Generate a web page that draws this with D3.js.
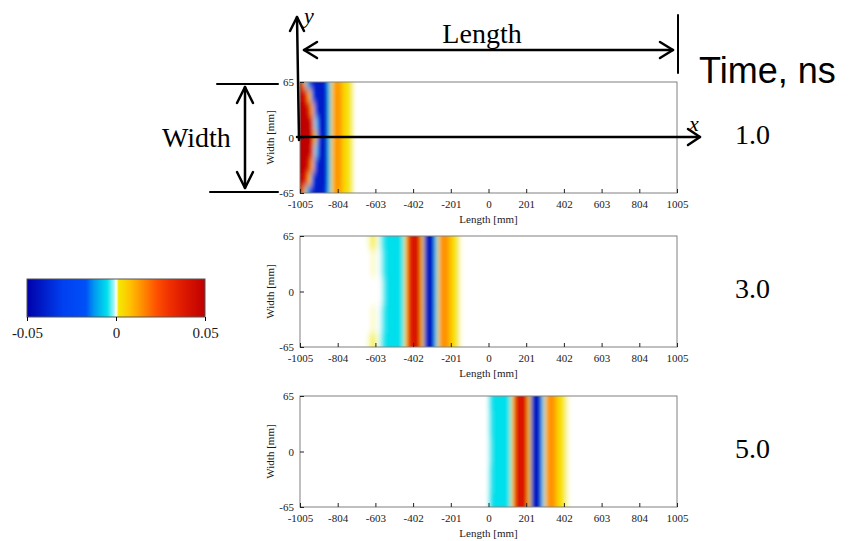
<!DOCTYPE html>
<html>
<head>
<meta charset="utf-8">
<script src="https://cdn.jsdelivr.net/npm/d3@7"></script>
<style>
  body { margin: 0; background: #fff; }
  svg { display: block; }
  text { font-family: "Liberation Serif", "Times New Roman", serif; }
</style>
</head>
<body>
<div id="chart"></div>
<script>
// ---- data ----
var lengthTicks = [-1005, -804, -603, -402, -201, 0, 201, 402, 603, 804, 1005];
var widthTicks = [-65, 0, 65];
var barTicks = [-0.05, 0, 0.05];
var times = ["1.0", "3.0", "5.0"];

// t = 1.0 ns : left edge of each 15 mm column, width rows (mirrored about 0)
var cols1 = [-1005, -990, -975, -960, -945, -930, -915, -900, -885, -870, -855, -840, -825, -810, -795, -780, -765, -750, -735, -720];
var rows1 = [65, 49, 33, 16, 0];
var field1 = [
  [.040, .012, -.006, -.030, -.040, -.041, -.041, -.041, -.040, -.036, -.004, .007, .013, .014, .011, .005, .003, .002, .001, 0],
  [.046, .042, .030, .002, -.028, -.040, -.041, -.042, -.042, -.038, -.005, .007, .013, .015, .012, .005, .003, .002, .001, 0],
  [.050, .048, .045, .036, .006, -.028, -.040, -.042, -.043, -.040, -.005, .007, .013, .015, .012, .005, .003, .002, .001, 0],
  [.050, .050, .049, .046, .036, -.002, -.032, -.042, -.044, -.040, -.005, .007, .013, .015, .012, .005, .003, .002, .001, 0],
  [.050, .050, .050, .048, .040, .003, -.030, -.042, -.044, -.040, -.005, .007, .013, .015, .012, .005, .003, .002, .001, 0]
];

// t = 3.0 ns
var cols2 = [-660, -645, -630, -615, -600, -585, -570, -555, -540, -525, -510, -495, -480, -465, -450, -435, -420, -405, -390, -375, -360, -345, -330, -315, -300, -285, -270, -255, -240, -225, -210, -195, -180, -165, -150];
var rows2 = [65, 33, 0];
var field2 = [
  [0, .0005, .001, .001, .0003, -.0008, -.004, -.005, -.005, -.005, -.005, -.005, -.005, -.004, .003, .030, .038, .040, .040, .037, .004, -.035, -.044, -.044, -.038, -.003, .010, .014, .015, .013, .008, .003, .002, .0008, 0],
  [0, 0, .0004, .0004, 0, -.0004, -.003, -.005, -.005, -.005, -.005, -.005, -.005, -.004, .003, .030, .038, .040, .040, .037, .004, -.035, -.044, -.044, -.038, -.003, .010, .014, .015, .013, .008, .003, .002, .0008, 0],
  [0, 0, 0, 0, 0, 0, -.0015, -.005, -.005, -.005, -.005, -.005, -.005, -.004, .003, .030, .038, .040, .040, .037, .004, -.035, -.044, -.044, -.038, -.003, .010, .014, .015, .013, .008, .003, .002, .0008, 0]
];

// t = 5.0 ns
var cols3 = [0, 15, 30, 45, 60, 75, 90, 105, 120, 135, 150, 165, 180, 195, 210, 225, 240, 255, 270, 285, 300, 315, 330, 345, 360, 375, 390, 405, 420, 435, 450];
var rows3 = [65, 33, 0];
var field3 = [
  [-.004, -.005, -.005, -.005, -.005, -.005, -.005, -.004, .004, .032, .039, .040, .040, .036, .002, -.038, -.044, -.044, -.038, -.002, .011, .014, .015, .013, .006, .003, .002, .0008, .0002, 0, 0],
  [-.003, -.005, -.005, -.005, -.005, -.005, -.005, -.004, .004, .032, .039, .040, .040, .036, .002, -.038, -.044, -.044, -.038, -.002, .011, .014, .015, .013, .006, .003, .002, .0008, .0002, 0, 0],
  [-.002, -.005, -.005, -.005, -.005, -.005, -.005, -.004, .004, .032, .039, .040, .040, .036, .002, -.038, -.044, -.044, -.038, -.002, .011, .014, .015, .013, .006, .003, .002, .0008, .0002, 0, 0]
];

var panels = [
  {cols: cols1, rows: rows1, field: field1, time: times[0]},
  {cols: cols2, rows: rows2, field: field2, time: times[1]},
  {cols: cols3, rows: rows3, field: field3, time: times[2]}
];

// ---- layout ----
var W = 854, H = 541;
var panelTop = [82, 236, 396], panelH = 111;
var plotLeft = 300, plotRight = 677;

var svg = d3.select("#chart").append("svg")
    .attr("width", W)
    .attr("height", H);
var defs = svg.append("defs");

defs.append("filter")
    .attr("id", "soft")
    .attr("x", "-5%").attr("y", "-10%").attr("width", "110%").attr("height", "120%")
  .append("feGaussianBlur")
    .attr("stdDeviation", "2.2 3.5");

// jet-like map with white at zero (from the colour bar)
var color = d3.scaleLinear()
    .domain([-0.05, -0.03, -0.017, -0.0125, -0.005, -0.001, 0, 0.0005, 0.0015, 0.0075, 0.015, 0.0225, 0.03, 0.04, 0.05])
    .range(["#0000aa", "#0040f0", "#0050f8", "#0096f0", "#00e0ec", "#b0f6f6", "#ffffff", "#fafac0", "#f4e800", "#ffc400", "#ff8c00", "#ff5200", "#f03000", "#d81400", "#be0000"])
    .clamp(true);

var x = d3.scaleLinear().domain([-1005, 1005]).range([plotLeft, plotRight]);

function cellsFor(p) {
  var levels = p.rows.concat(p.rows.slice(0, -1).reverse().map(function(r) { return -r; }));
  var vals = p.field.concat(p.field.slice(0, -1).reverse());
  var out = [];
  levels.forEach(function(lv, r) {
    var hi = r === 0 ? 65 : (levels[r - 1] + lv) / 2;
    var lo = r === levels.length - 1 ? -65 : (levels[r + 1] + lv) / 2;
    p.cols.forEach(function(c, k) {
      var next = k < p.cols.length - 1 ? p.cols[k + 1] : c + (c - p.cols[k - 1]);
      out.push({c0: c, c1: next, hi: hi, lo: lo, v: vals[r][k],
                edge: c === x.domain()[0], top: r === 0, bottom: r === levels.length - 1});
    });
  });
  return out;
}

var pad = 10;

panels.forEach(function(p, i) {
  var top = panelTop[i];
  var y = d3.scaleLinear().domain([-65, 65]).range([top + panelH, top]);
  var g = svg.append("g");

  defs.append("clipPath").attr("id", "clip" + i)
    .append("rect")
      .attr("x", plotLeft).attr("y", top)
      .attr("width", plotRight - plotLeft).attr("height", panelH);

  var field = g.append("g")
      .attr("clip-path", "url(#clip" + i + ")")
    .append("g")
      .attr("filter", "url(#soft)");

  field.append("rect")
      .attr("x", plotLeft - pad).attr("y", top - pad)
      .attr("width", plotRight - plotLeft + 2 * pad).attr("height", panelH + 2 * pad)
      .attr("fill", "#fff");

  field.selectAll("rect.cell")
    .data(cellsFor(p))
    .enter().append("rect")
      .attr("class", "cell")
      .attr("x", function(d) { return x(d.c0) - (d.edge ? pad : 0); })
      .attr("width", function(d) { return x(d.c1) - x(d.c0) + 0.6 + (d.edge ? pad : 0); })
      .attr("y", function(d) { return y(d.hi) - (d.top ? pad : 0); })
      .attr("height", function(d) { return y(d.lo) - y(d.hi) + 0.6 + (d.top ? pad : 0) + (d.bottom ? pad : 0); })
      .attr("fill", function(d) { return color(d.v); });

  g.append("rect")
      .attr("x", plotLeft).attr("y", top)
      .attr("width", plotRight - plotLeft).attr("height", panelH)
      .attr("fill", "none")
      .attr("stroke", "#808080")
      .attr("stroke-width", 1);

  var xa = g.append("g")
      .attr("transform", "translate(0," + (top + panelH) + ")")
      .call(d3.axisBottom(x).tickValues(lengthTicks)
        .tickSizeInner(-4).tickSizeOuter(0).tickPadding(7)
        .tickFormat(function(d) { return String(d); }));
  var ya = g.append("g")
      .attr("transform", "translate(" + plotLeft + ",0)")
      .call(d3.axisLeft(y).tickValues(widthTicks)
        .tickSizeInner(-4).tickSizeOuter(0).tickPadding(6)
        .tickFormat(function(d) { return String(d); }));
  [xa, ya].forEach(function(a) {
    a.attr("font-family", null).attr("font-size", 11);
    a.select(".domain").remove();
    a.selectAll("text").attr("fill", "#1a1a1a");
    a.selectAll("line").attr("stroke", "#222");
  });

  g.append("text")
      .attr("x", (plotLeft + plotRight) / 2)
      .attr("y", top + panelH + 30)
      .attr("text-anchor", "middle")
      .attr("font-size", 11)
      .attr("fill", "#1a1a1a")
      .text("Length [mm]");

  g.append("text")
      .attr("transform", "translate(274," + (top + panelH / 2) + ") rotate(-90)")
      .attr("text-anchor", "middle")
      .attr("font-size", 11)
      .attr("fill", "#1a1a1a")
      .text("Width [mm]");

  svg.append("text")
      .attr("x", 735)
      .attr("y", top + panelH / 2 + 6)
      .attr("font-size", 28)
      .text(p.time);
});

// ---- colour bar ----
var cb = d3.scaleLinear().domain([-0.05, 0.05]).range([27, 205]);
var grad = defs.append("linearGradient").attr("id", "cbar");
grad.selectAll("stop")
  .data(d3.range(0, 201))
  .enter().append("stop")
    .attr("offset", function(d) { return (d / 200 * 100) + "%"; })
    .attr("stop-color", function(d) { return color(cb.invert(27 + d / 200 * 178)); });

svg.append("rect")
    .attr("x", 27).attr("y", 279)
    .attr("width", 178).attr("height", 38)
    .attr("fill", "url(#cbar)")
    .attr("stroke", "#555")
    .attr("stroke-width", 1);

svg.append("g")
    .attr("transform", "translate(0,317)")
    .call(d3.axisBottom(cb).tickValues(barTicks).tickSizeInner(4).tickSizeOuter(0).tickPadding(6)
      .tickFormat(function(d) { return d === 0 ? "0" : d3.format(".2f")(d).replace("\u2212", "-"); }))
    .call(function(a) {
      a.attr("font-family", null).attr("font-size", 15);
      a.select(".domain").remove();
      a.selectAll("text").attr("fill", "#1a1a1a");
    });

// ---- sketch annotations ----
var ann = svg.append("g")
    .attr("fill", "none")
    .attr("stroke", "#000")
    .attr("stroke-width", 2.5)
    .attr("stroke-linecap", "round")
    .attr("stroke-linejoin", "round");

// y axis arrow
ann.append("path").attr("d", "M299,140 L297,17");
ann.append("path").attr("d", "M290,31 L297,17 L304,31");
// x axis arrow
ann.append("path").attr("d", "M297,137 H700");
ann.append("path").attr("d", "M688,129 L700,137 L688,145");
// length arrow
ann.append("path").attr("d", "M304,50 H673");
ann.append("path").attr("d", "M317,42 L304,50 L317,58");
ann.append("path").attr("d", "M660,42 L673,50 L660,58");
ann.append("path").attr("d", "M678,15 V73").attr("stroke-width", 2);
// width arrow
ann.append("path").attr("d", "M217,84 H278").attr("stroke-width", 2);
ann.append("path").attr("d", "M210,192 H278").attr("stroke-width", 2);
ann.append("path").attr("d", "M245,87 V188");
ann.append("path").attr("d", "M237,103 L245,87 L253,103");
ann.append("path").attr("d", "M237,172 L245,188 L253,172");

svg.append("text").attr("x", 304).attr("y", 23)
    .attr("font-size", 22).attr("font-style", "italic").text("y");
svg.append("text").attr("x", 689).attr("y", 131)
    .attr("font-size", 22).attr("font-style", "italic").text("x");
svg.append("text").attr("x", 482).attr("y", 43)
    .attr("font-size", 28).attr("text-anchor", "middle").text("Length");
svg.append("text").attr("x", 162).attr("y", 147)
    .attr("font-size", 28).text("Width");
svg.append("text").attr("x", 699).attr("y", 83)
    .style("font-family", "'Liberation Sans', Arial, sans-serif")
    .attr("font-size", 36).text("Time, ns");
</script>
</body>
</html>
